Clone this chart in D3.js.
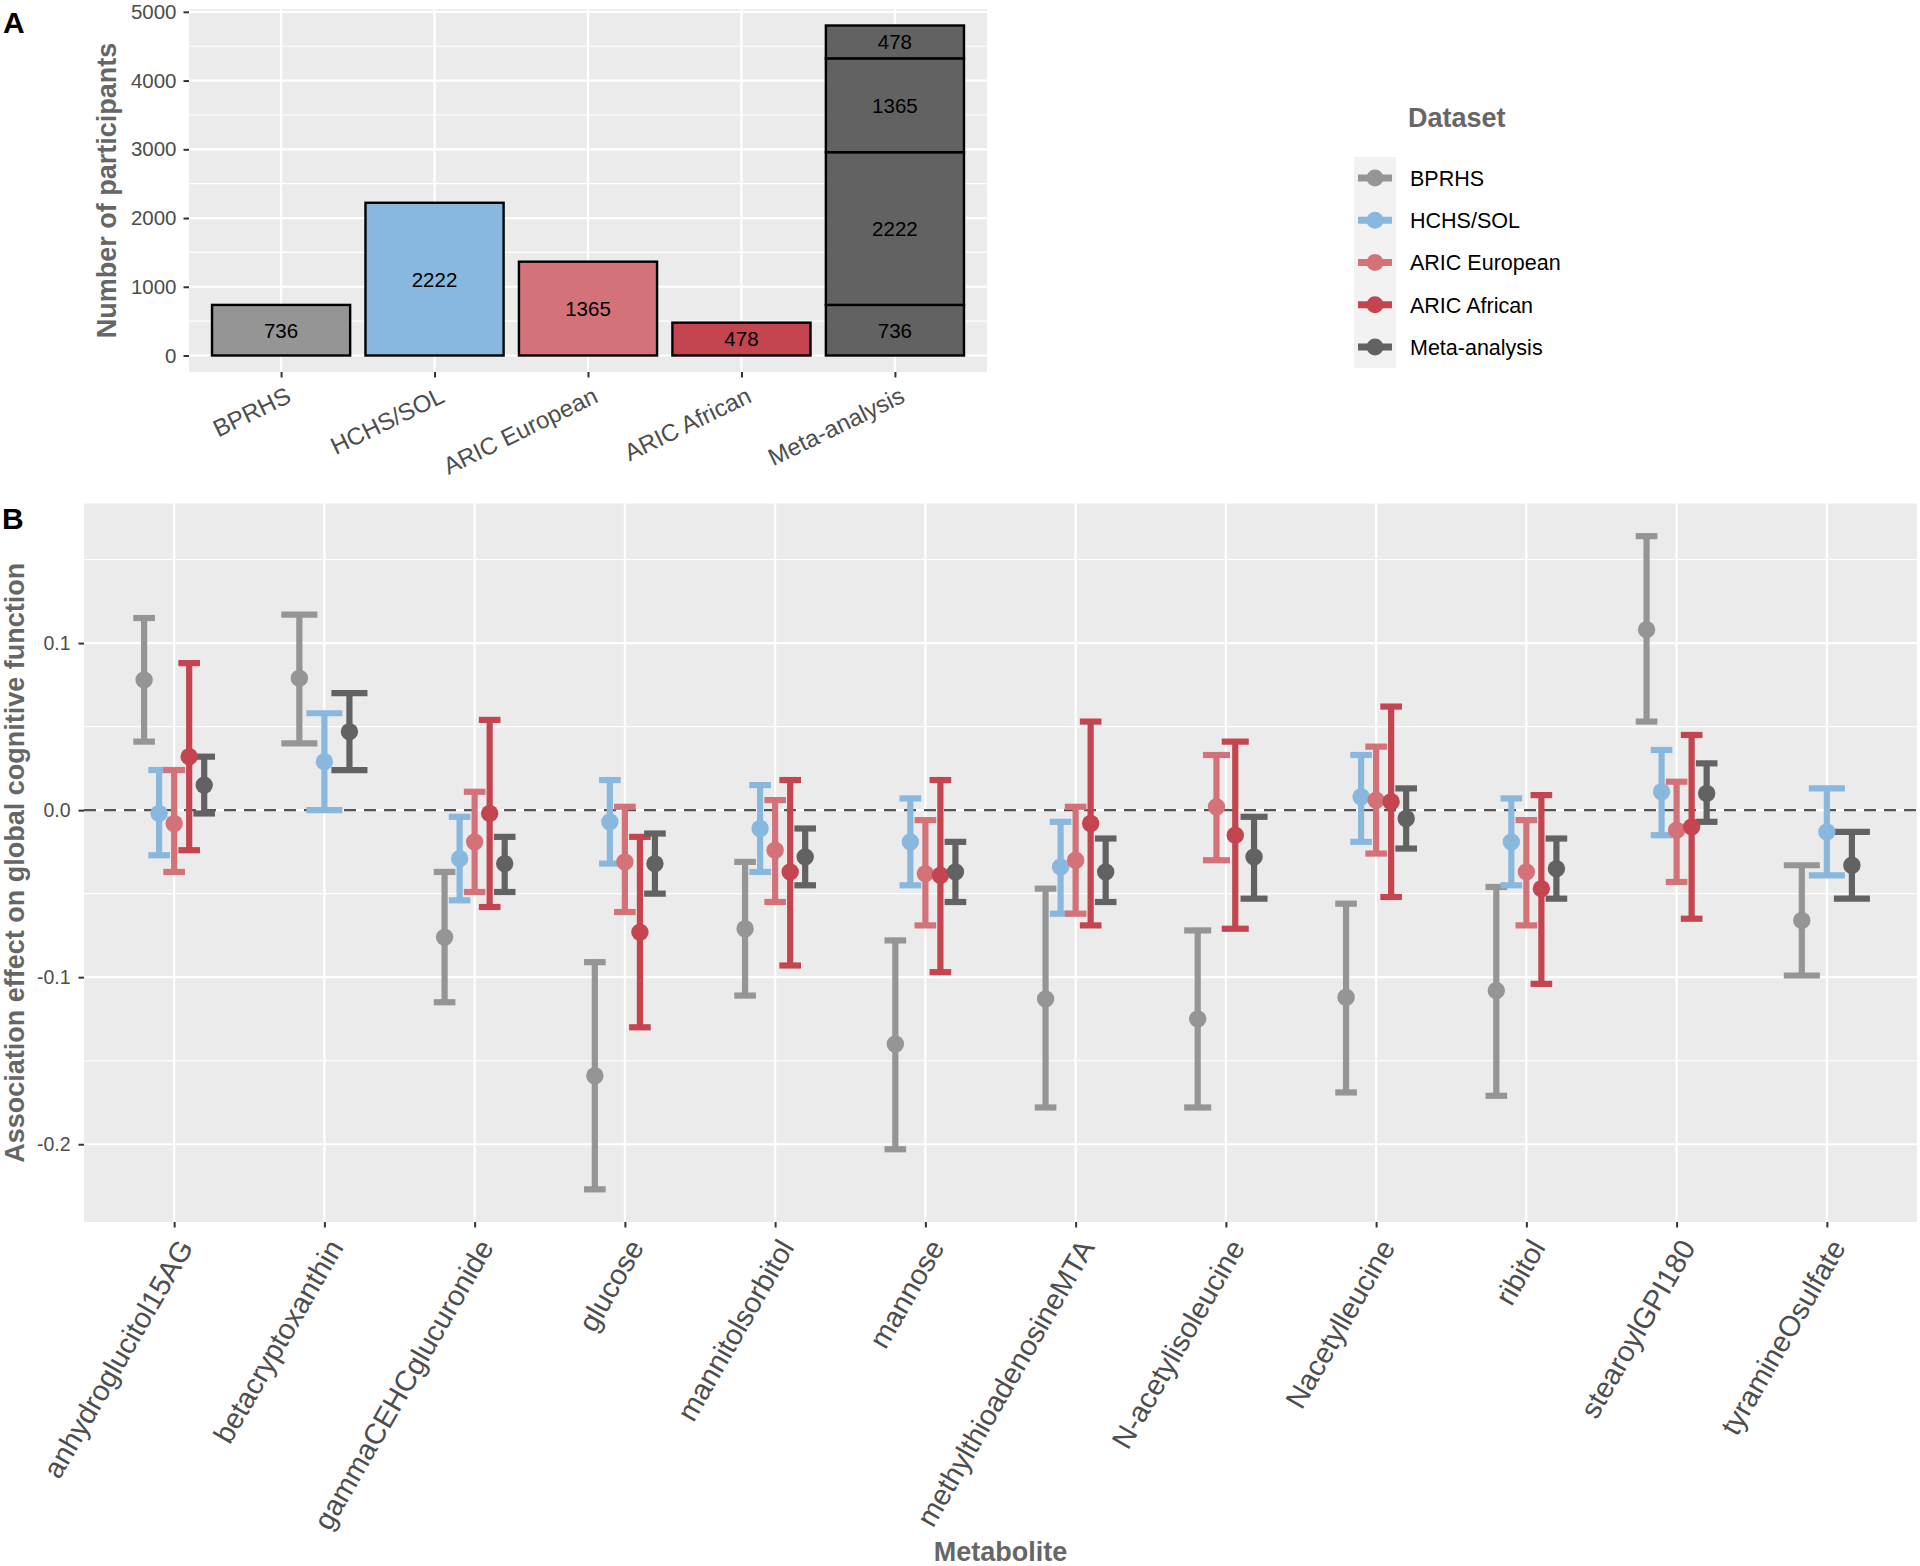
<!DOCTYPE html>
<html><head><meta charset="utf-8">
<script src="https://cdn.jsdelivr.net/npm/d3@7"></script>
<style>
body{margin:0;background:#fff}
svg text{font-family:"Liberation Sans",Arial,Helvetica,sans-serif}
</style>
</head><body>
<svg id="chart" width="1920" height="1566"></svg>
<script>
// ---------------- DATA ----------------
const datasets = ["BPRHS", "HCHS/SOL", "ARIC European", "ARIC African", "Meta-analysis"];
const datasetColors = ["#959595", "#89b8de", "#d37278", "#c4454f", "#626262"];
// Panel A: participants per cohort (meta-analysis bar stacks the four cohorts)
const cohorts = ["BPRHS", "HCHS/SOL", "ARIC European", "ARIC African"];
const participants = [736, 2222, 1365, 478];
const countTicks = [0, 1000, 2000, 3000, 4000, 5000];

// Panel B
const metabolites = ["anhydroglucitol15AG", "betacryptoxanthin", "gammaCEHCglucuronide", "glucose",
  "mannitolsorbitol", "mannose", "methylthioadenosineMTA", "N-acetylisoleucine", "Nacetylleucine",
  "ribitol", "stearoylGPI180", "tyramineOsulfate"];
const effectTicks = [-0.2, -0.1, 0.0, 0.1];
const effectTickLabels = ["-0.2", "-0.1", "0.0", "0.1"];

const bprhsEst = [0.078, 0.079, -0.076, -0.159, -0.071, -0.140, -0.113, -0.125, -0.112, -0.108, 0.108, -0.066];
const bprhsLo  = [0.041, 0.040, -0.115, -0.227, -0.111, -0.203, -0.178, -0.178, -0.169, -0.171, 0.053, -0.099];
const bprhsHi  = [0.115, 0.117, -0.037, -0.091, -0.031, -0.078, -0.047, -0.072, -0.056, -0.046, 0.164, -0.033];

const hchsEst = [-0.002, 0.029, -0.029, -0.007, -0.011, -0.019, -0.034, null, 0.008, -0.019, 0.011, -0.013];
const hchsLo  = [-0.027, 0.000, -0.054, -0.032, -0.037, -0.045, -0.062, null, -0.019, -0.045, -0.015, -0.039];
const hchsHi  = [0.024, 0.058, -0.004, 0.018, 0.015, 0.007, -0.007, null, 0.033, 0.007, 0.036, 0.013];

const aricEurEst = [-0.008, null, -0.019, -0.031, -0.024, -0.038, -0.030, 0.002, 0.006, -0.037, -0.012, null];
const aricEurLo  = [-0.037, null, -0.049, -0.061, -0.055, -0.069, -0.062, -0.030, -0.026, -0.069, -0.043, null];
const aricEurHi  = [0.024, null, 0.011, 0.002, 0.006, -0.006, 0.002, 0.033, 0.038, -0.006, 0.017, null];

const aricAfrEst = [0.032, null, -0.002, -0.073, -0.037, -0.039, -0.008, -0.015, 0.005, -0.047, -0.010, null];
const aricAfrLo  = [-0.024, null, -0.058, -0.130, -0.093, -0.097, -0.069, -0.071, -0.052, -0.104, -0.065, null];
const aricAfrHi  = [0.088, null, 0.054, -0.016, 0.018, 0.018, 0.053, 0.041, 0.062, 0.009, 0.045, null];

const metaEst = [0.015, 0.047, -0.032, -0.032, -0.028, -0.037, -0.037, -0.028, -0.005, -0.035, 0.010, -0.033];
const metaLo  = [-0.002, 0.024, -0.049, -0.050, -0.045, -0.055, -0.055, -0.053, -0.023, -0.053, -0.007, -0.053];
const metaHi  = [0.032, 0.070, -0.016, -0.014, -0.011, -0.019, -0.017, -0.004, 0.013, -0.017, 0.028, -0.013];

const seriesEst = [bprhsEst, hchsEst, aricEurEst, aricAfrEst, metaEst];
const seriesLo = [bprhsLo, hchsLo, aricEurLo, aricAfrLo, metaLo];
const seriesHi = [bprhsHi, hchsHi, aricEurHi, aricAfrHi, metaHi];

// ---------------- STYLE ----------------
const PANEL_BG = "#ebebeb", GRID = "#ffffff", TICK = "#333333", TICKTXT = "#4d4d4d", TITLE = "#666666";
const svg = d3.select("#chart");
const color = d3.scaleOrdinal().domain(datasets).range(datasetColors);

// ---------------- PANEL A ----------------
(function panelA() {
  const L = 189, R = 987, T = 9, B = 372;
  const total = d3.sum(participants);
  const x = d3.scalePoint().domain(datasets).range([L, R]).padding(0.6);
  const y = d3.scaleLinear().domain([-0.05 * total, total * 1.05]).range([B, T]);
  const g = svg.append("g");
  g.append("rect").attr("x", L).attr("y", T).attr("width", R - L).attr("height", B - T).attr("fill", PANEL_BG);
  // minor grid
  const minor = d3.range(500, 5001, 1000);
  g.selectAll(".mi").data(minor).join("line").attr("x1", L).attr("x2", R)
    .attr("y1", d => y(d)).attr("y2", d => y(d)).attr("stroke", GRID).attr("stroke-width", 1.1);
  g.selectAll(".ma").data(countTicks).join("line").attr("x1", L).attr("x2", R)
    .attr("y1", d => y(d)).attr("y2", d => y(d)).attr("stroke", GRID).attr("stroke-width", 2.2);
  g.selectAll(".vx").data(datasets).join("line").attr("x1", d => x(d)).attr("x2", d => x(d))
    .attr("y1", T).attr("y2", B).attr("stroke", GRID).attr("stroke-width", 2.2);

  // bars
  const bw = x.step() * 0.9;
  const segs = [];
  cohorts.forEach((c, i) => segs.push({cat: c, y0: 0, y1: participants[i], fill: color(c), v: participants[i]}));
  let cum = 0;
  cohorts.forEach((c, i) => { segs.push({cat: "Meta-analysis", y0: cum, y1: cum + participants[i], fill: color("Meta-analysis"), v: participants[i]}); cum += participants[i]; });
  g.selectAll(".bar").data(segs).join("rect")
    .attr("x", d => x(d.cat) - bw / 2).attr("width", bw)
    .attr("y", d => y(d.y1)).attr("height", d => y(d.y0) - y(d.y1))
    .attr("fill", d => d.fill).attr("stroke", "#000").attr("stroke-width", 2.4);
  g.selectAll(".bl").data(segs).join("text")
    .attr("x", d => x(d.cat)).attr("y", d => y((d.y0 + d.y1) / 2)).attr("dy", "0.36em")
    .attr("text-anchor", "middle").attr("font-size", 20.5).attr("fill", "#000").text(d => d.v);

  // axes
  const ya = g.append("g").attr("transform", `translate(${L},0)`)
    .call(d3.axisLeft(y).tickValues(countTicks).tickSize(5.5).tickPadding(7).tickFormat(d3.format("d")));
  ya.select(".domain").remove();
  ya.selectAll("line").attr("stroke", TICK).attr("stroke-width", 2);
  ya.selectAll("text").attr("font-size", 20.5).attr("fill", TICKTXT).attr("font-family", "Liberation Sans, Arial, sans-serif");

  const xa = g.append("g").attr("transform", `translate(0,${B})`)
    .call(d3.axisBottom(x).tickSize(5.5).tickFormat(""));
  xa.select(".domain").remove();
  xa.selectAll("line").attr("stroke", TICK).attr("stroke-width", 2);
  g.selectAll(".xl").data(datasets).join("text")
    .attr("transform", d => `translate(${x(d) + 4},${B + 14}) rotate(-26)`)
    .attr("text-anchor", "end").attr("dy", "0.71em").attr("font-size", 24).attr("fill", TICKTXT).text(d => d);

  g.append("text").attr("transform", `translate(116,${(T + B) / 2}) rotate(-90)`)
    .attr("text-anchor", "middle").attr("font-size", 27).attr("font-weight", "bold").attr("fill", TITLE)
    .text("Number of participants");
  svg.append("text").attr("x", 3).attr("y", 33).attr("font-size", 30).attr("font-weight", "bold").text("A");
})();

// ---------------- LEGEND ----------------
(function legend() {
  const g = svg.append("g");
  g.append("text").attr("x", 1408).attr("y", 126.5).attr("font-size", 27).attr("font-weight", "bold")
    .attr("fill", TITLE).text("Dataset");
  const rowY = d3.scalePoint().domain(datasets).range([178, 347]);
  g.append("rect").attr("x", 1354).attr("y", 157).attr("width", 42).attr("height", 211).attr("fill", "#f2f2f2");
  const rows = g.selectAll(".lr").data(datasets).join("g").attr("transform", d => `translate(0,${rowY(d)})`);
  rows.append("line").attr("x1", 1358).attr("x2", 1392).attr("stroke", d => color(d)).attr("stroke-width", 7);
  rows.append("circle").attr("cx", 1375).attr("r", 8.5).attr("fill", d => color(d));
  rows.append("text").attr("x", 1410).attr("dy", "0.36em").attr("font-size", 21.5).attr("fill", "#000").text(d => d);
})();

// ---------------- PANEL B ----------------
(function panelB() {
  const L = 84, R = 1917, T = 503.5, B = 1222;
  const allLo = d3.min(seriesLo.flat().filter(v => v != null));
  const allHi = d3.max(seriesHi.flat().filter(v => v != null));
  const pad = (allHi - allLo) * 0.05;
  const x = d3.scalePoint().domain(metabolites).range([L, R]).padding(0.6);
  const y = d3.scaleLinear().domain([allLo - pad, allHi + pad]).range([B, T]);
  const g = svg.append("g");
  g.append("rect").attr("x", L).attr("y", T).attr("width", R - L).attr("height", B - T).attr("fill", PANEL_BG);
  const minor = [-0.15, -0.05, 0.05, 0.15];
  g.selectAll(".mi").data(minor).join("line").attr("x1", L).attr("x2", R)
    .attr("y1", d => y(d)).attr("y2", d => y(d)).attr("stroke", GRID).attr("stroke-width", 1.1);
  g.selectAll(".ma").data(effectTicks).join("line").attr("x1", L).attr("x2", R)
    .attr("y1", d => y(d)).attr("y2", d => y(d)).attr("stroke", GRID).attr("stroke-width", 2.2);
  g.selectAll(".vx").data(metabolites).join("line").attr("x1", d => x(d)).attr("x2", d => x(d))
    .attr("y1", T).attr("y2", B).attr("stroke", GRID).attr("stroke-width", 2.2);

  // zero reference
  g.append("line").attr("x1", L).attr("x2", R).attr("y1", y(0)).attr("y2", y(0))
    .attr("stroke", "#555555").attr("stroke-width", 2.3).attr("stroke-dasharray", "12,8");

  // build records with dodge
  const recs = [];
  metabolites.forEach((m, mi) => {
    const present = datasets.map((d, si) => si).filter(si => seriesEst[si][mi] != null);
    const n = present.length;
    present.forEach((si, k) => {
      recs.push({m, ds: datasets[si], est: seriesEst[si][mi], lo: seriesLo[si][mi], hi: seriesHi[si][mi],
        off: (k - (n - 1) / 2) * (0.5 / n), capW: 0.72 / n});
    });
  });
  const step = x.step();
  const cx = d => x(d.m) + d.off * step;
  const eb = g.selectAll(".eb").data(recs).join("g").attr("stroke", d => color(d.ds)).attr("stroke-width", 6.2);
  eb.append("line").attr("x1", cx).attr("x2", cx).attr("y1", d => y(d.lo)).attr("y2", d => y(d.hi));
  eb.append("line").attr("x1", d => cx(d) - d.capW * step / 2).attr("x2", d => cx(d) + d.capW * step / 2)
    .attr("y1", d => y(d.lo)).attr("y2", d => y(d.lo));
  eb.append("line").attr("x1", d => cx(d) - d.capW * step / 2).attr("x2", d => cx(d) + d.capW * step / 2)
    .attr("y1", d => y(d.hi)).attr("y2", d => y(d.hi));
  g.selectAll(".pt").data(recs).join("circle").attr("cx", cx).attr("cy", d => y(d.est)).attr("r", 8.7)
    .attr("fill", d => color(d.ds));

  // axes
  const ya = g.append("g").attr("transform", `translate(${L},0)`)
    .call(d3.axisLeft(y).tickValues(effectTicks).tickSize(5.5).tickPadding(8)
      .tickFormat((d, i) => effectTickLabels[i]));
  ya.select(".domain").remove();
  ya.selectAll("line").attr("stroke", TICK).attr("stroke-width", 2);
  ya.selectAll("text").attr("font-size", 19.5).attr("fill", TICKTXT).attr("font-family", "Liberation Sans, Arial, sans-serif");

  const xa = g.append("g").attr("transform", `translate(0,${B})`)
    .call(d3.axisBottom(x).tickSize(5.5).tickFormat(""));
  xa.select(".domain").remove();
  xa.selectAll("line").attr("stroke", TICK).attr("stroke-width", 2);
  g.selectAll(".xl").data(metabolites).join("text")
    .attr("transform", d => `translate(${x(d) + 2},${B + 15}) rotate(-60)`)
    .attr("text-anchor", "end").attr("dy", "0.71em").attr("font-size", 29).attr("fill", TICKTXT).text(d => d);

  g.append("text").attr("transform", `translate(24,${(T + B) / 2}) rotate(-90)`)
    .attr("text-anchor", "middle").attr("font-size", 27).attr("font-weight", "bold").attr("fill", TITLE)
    .text("Association effect on global cognitive function");
  g.append("text").attr("x", (L + R) / 2).attr("y", 1561).attr("text-anchor", "middle")
    .attr("font-size", 27).attr("font-weight", "bold").attr("fill", TITLE).text("Metabolite");
  svg.append("text").attr("x", 2).attr("y", 529).attr("font-size", 30).attr("font-weight", "bold").text("B");
})();
</script>
</body></html>
